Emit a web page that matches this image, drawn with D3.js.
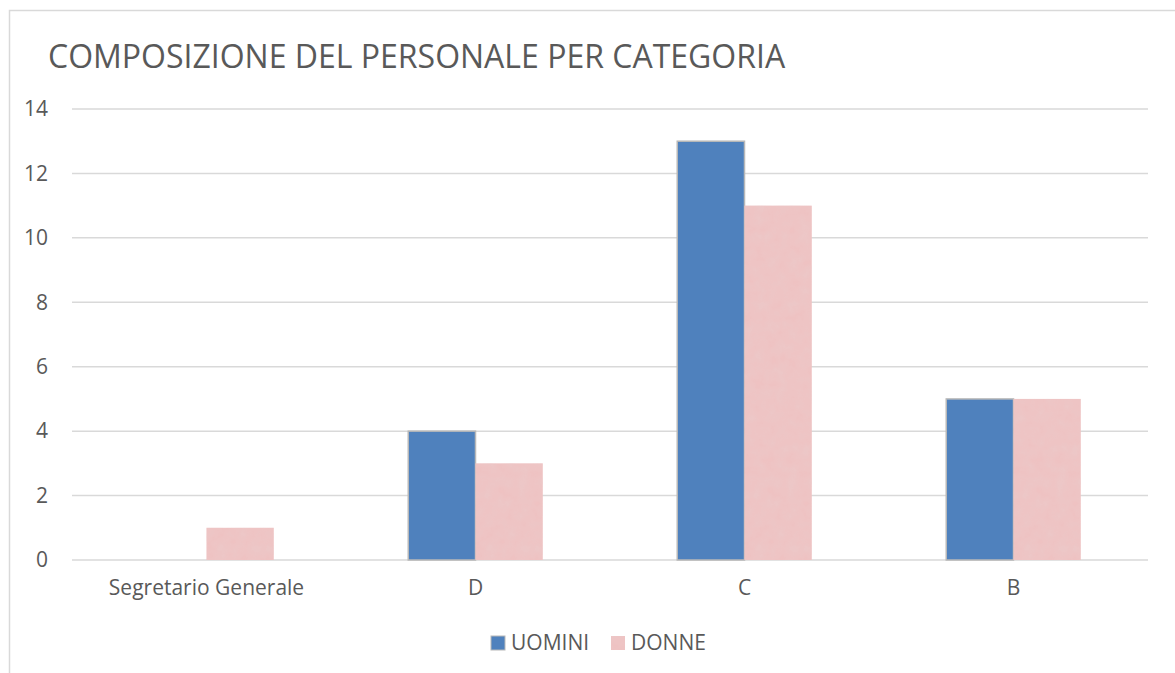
<!DOCTYPE html>
<html>
<head>
<meta charset="utf-8">
<script src="https://cdn.jsdelivr.net/npm/d3@7"></script>
<style>
  body { margin: 0; background: #fff; }
  text { font-family: "Open Sans", "Noto Sans", sans-serif; fill: #595959; }
</style>
</head>
<body>
<svg id="svg" width="1175" height="673"></svg>
<script>
// dati
const categorie = ["Segretario Generale", "D", "C", "B"];
const serie = ["UOMINI", "DONNE"];
const uomini = [0, 4, 13, 5];
const donne = [1, 3, 11, 5];
const yTicks = [0, 2, 4, 6, 8, 10, 12, 14];
const titolo = "COMPOSIZIONE DEL PERSONALE PER CATEGORIA";

const svg = d3.select("#svg");
const margin = {top: 109, right: 27, bottom: 113, left: 72};
const width = +svg.attr("width");
const height = +svg.attr("height");

// texture rosa
const defs = svg.append("defs");
const filt = defs.append("filter").attr("id", "grana")
  .attr("x", 0).attr("y", 0).attr("width", 1).attr("height", 1);
filt.append("feTurbulence").attr("type", "fractalNoise")
  .attr("baseFrequency", 0.09).attr("numOctaves", 3).attr("seed", 4).attr("result", "n");
filt.append("feColorMatrix").attr("in", "n").attr("type", "matrix")
  .attr("values", "0 0 0 0 0.82  0 0 0 0 0.6  0 0 0 0 0.6  0 0 0 0.8 -0.15").attr("result", "c");
filt.append("feComposite").attr("in", "c").attr("in2", "SourceGraphic").attr("operator", "in").attr("result", "t");
filt.append("feMerge").call(m => {
  m.append("feMergeNode").attr("in", "SourceGraphic");
  m.append("feMergeNode").attr("in", "t");
});

// cornice
svg.append("rect")
  .attr("x", 9.5).attr("y", 10.5)
  .attr("width", 1180).attr("height", 700)
  .attr("fill", "none").attr("stroke", "#d9d9d9").attr("stroke-width", 1.5);

svg.append("text")
  .attr("x", 48).attr("y", 68)
  .attr("font-size", 32)
  .text(titolo);

const x0 = d3.scaleBand()
  .domain(categorie)
  .range([margin.left, width - margin.right])
  .paddingInner(0).paddingOuter(0);

const bw = x0.bandwidth();
const x1 = d3.scaleBand()
  .domain(serie)
  .range([bw / 2 - bw * 0.25, bw / 2 + bw * 0.25]);

const y = d3.scaleLinear()
  .domain([0, 14])
  .range([height - margin.bottom, margin.top]);

// griglia
svg.append("g")
  .selectAll("line")
  .data(yTicks)
  .join("line")
  .attr("x1", margin.left).attr("x2", width - margin.right)
  .attr("y1", d => y(d)).attr("y2", d => y(d))
  .attr("stroke", "#d9d9d9").attr("stroke-width", 1.5);

const yAxis = g => g
  .attr("transform", `translate(${margin.left - 24},0)`)
  .call(d3.axisLeft(y).tickValues(yTicks).tickSize(0).tickPadding(0))
  .call(g => g.select(".domain").remove())
  .call(g => g.selectAll("text").attr("font-size", 21).attr("font-family", null).attr("fill", null));

svg.append("g").call(yAxis);

const xAxis = g => g
  .attr("transform", `translate(0,${height - margin.bottom})`)
  .call(d3.axisBottom(x0).tickSize(0).tickPadding(20))
  .call(g => g.select(".domain").remove())
  .call(g => g.selectAll("text").attr("font-size", 21).attr("font-family", null).attr("fill", null));

svg.append("g").call(xAxis);

const righe = categorie.map((c, i) => ({cat: c, valori: [uomini[i], donne[i]]}));

const gruppi = svg.append("g")
  .selectAll("g")
  .data(righe)
  .join("g")
  .attr("transform", d => `translate(${x0(d.cat)},0)`);

gruppi.selectAll("rect")
  .data(d => d.valori.map((v, j) => ({serie: serie[j], v})).filter(d => d.v > 0))
  .join("rect")
  .attr("x", d => x1(d.serie))
  .attr("y", d => y(d.v))
  .attr("width", x1.bandwidth())
  .attr("height", d => y(0) - y(d.v))
  .attr("fill", d => d.serie === "UOMINI" ? "#4f81bd" : "#efc2c2")
  .attr("stroke", d => d.serie === "UOMINI" ? "#b8b8b8" : "none")
  .attr("stroke-width", 1.5)
  .attr("filter", d => d.serie === "DONNE" ? "url(#grana)" : null);

// legenda
const leg = svg.append("g").attr("transform", "translate(491,643)");
const posX = [0, 120];
serie.forEach((s, i) => {
  const g = leg.append("g").attr("transform", `translate(${posX[i]},0)`);
  g.append("rect")
    .attr("x", 0).attr("y", -7).attr("width", 14).attr("height", 14)
    .attr("fill", i === 0 ? "#4f81bd" : "#efc2c2")
    .attr("stroke", i === 0 ? "#b8b8b8" : "none")
    .attr("filter", i === 1 ? "url(#grana)" : null);
  g.append("text")
    .attr("x", 20).attr("y", 0).attr("dy", "0.35em")
    .attr("font-size", 21)
    .text(s);
});
</script>
</body>
</html>
